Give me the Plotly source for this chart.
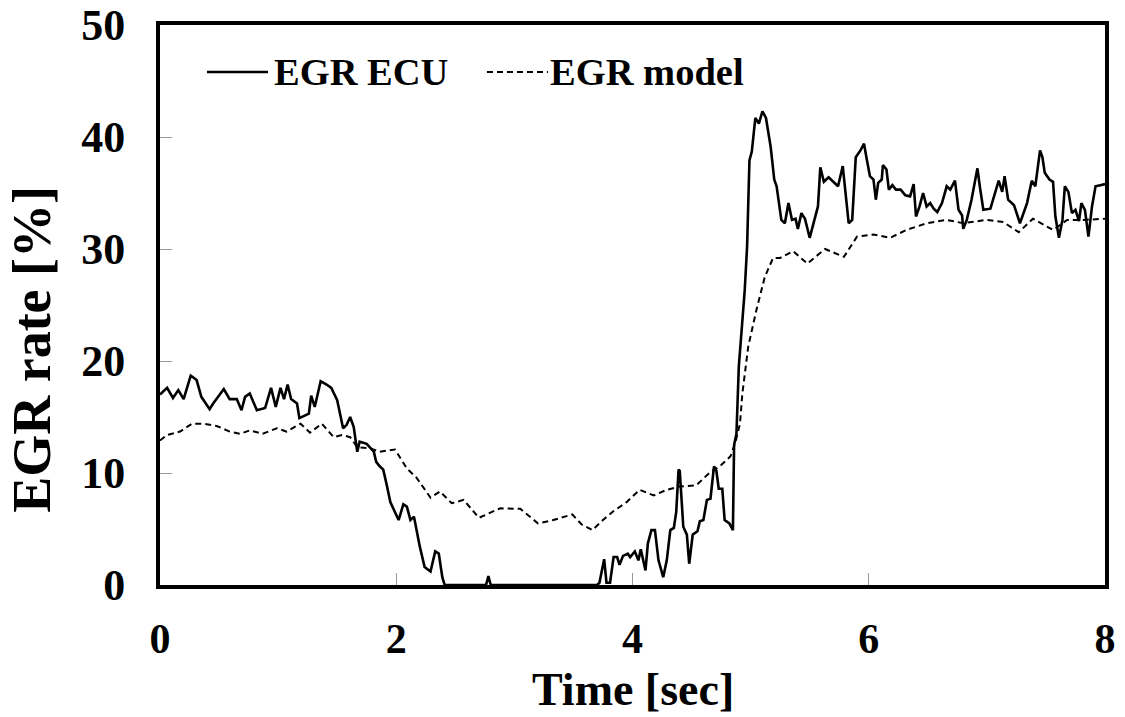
import plotly.graph_objects as go

# EGR ECU (solid)
ecu_t = [0.00,0.06,0.11,0.155,0.20,0.26,0.31,0.35,0.42,0.45,0.54,0.59,0.65,0.69,0.72,0.76,0.82,0.89,0.94,0.98,
         1.02,1.05,1.08,1.11,1.16,1.18,1.26,1.28,1.31,1.36,1.41,1.45,1.50,1.55,1.58,1.61,1.64,1.67,1.69,1.75,
         1.81,1.83,1.86,1.89,1.92,1.95,2.02,2.06,2.09,2.12,2.15,2.20,2.24,2.29,2.33,2.36,2.39,2.41,2.50,2.76,
         2.78,2.80,3.70,3.72,3.76,3.78,3.81,3.84,3.87,3.89,3.92,3.96,3.98,4.02,4.05,4.07,4.11,4.13,4.16,4.19,
         4.22,4.26,4.29,4.32,4.35,4.37,4.39,4.40,4.43,4.46,4.48,4.51,4.55,4.57,4.60,4.63,4.66,4.69,4.71,4.73,
         4.76,4.78,4.82,4.85,4.86,4.88,4.90,4.95,4.97,4.99,5.01,5.04,5.07,5.10,5.13,5.17,5.20,5.22,5.26,5.29,
         5.32,5.35,5.38,5.40,5.43,5.46,5.50,5.55,5.57,5.59,5.62,5.66,5.70,5.74,5.78,5.80,5.83,5.86,5.89,5.93,
         5.96,5.98,6.01,6.04,6.06,6.08,6.11,6.12,6.15,6.17,6.20,6.23,6.27,6.31,6.35,6.38,6.40,6.43,6.46,6.49,
         6.52,6.55,6.58,6.62,6.66,6.69,6.73,6.76,6.79,6.80,6.83,6.87,6.92,6.94,6.97,7.03,7.07,7.10,7.13,7.15,
         7.18,7.23,7.28,7.30,7.34,7.38,7.41,7.45,7.47,7.49,7.53,7.56,7.58,7.61,7.64,7.66,7.69,7.72,7.75,7.78,
         7.80,7.83,7.86,7.89,7.92,7.96,8.00]
ecu_v = [17.0,17.6,16.7,17.4,16.6,18.7,18.3,16.8,15.7,16.2,17.5,16.6,16.6,15.6,16.8,17.1,15.6,15.8,17.6,15.9,
         17.6,16.6,17.9,16.6,16.2,14.9,15.3,16.9,15.9,18.2,17.9,17.6,16.5,14.0,14.3,15.0,14.1,11.9,12.8,12.6,
         11.9,11.0,10.6,10.3,8.9,7.4,5.8,7.2,7.0,5.8,6.1,3.4,1.6,1.2,3.0,2.8,0.7,0.0,0.0,0.0,
         0.8,0.0,0.0,0.2,2.3,0.2,0.2,2.5,2.5,1.8,2.6,2.8,2.5,3.0,2.2,3.2,1.3,3.7,4.9,4.9,
         2.2,0.7,2.2,4.9,5.1,6.5,10.3,10.2,5.2,4.5,1.9,4.5,4.8,5.7,5.8,7.6,7.7,10.6,10.2,8.6,
         8.6,5.8,5.5,4.9,12.5,13.5,19.5,26.3,30.2,37.9,38.7,41.7,41.2,42.3,41.7,39.1,36.2,35.6,32.6,32.3,
         34.1,32.6,32.7,31.8,33.2,32.7,31.0,32.9,33.8,37.3,36.0,36.4,36.0,35.6,37.4,35.3,32.3,32.6,38.2,38.8,
         39.4,38.2,36.5,36.2,34.4,35.9,36.2,37.5,37.1,35.3,35.7,35.3,35.3,34.8,34.7,35.8,32.9,33.8,35.0,33.8,
         34.1,33.6,33.3,34.1,35.6,35.3,36.1,33.5,33.0,31.8,32.6,34.4,37.2,35.6,33.5,33.6,35.0,36.1,35.1,36.5,
         34.4,33.9,32.3,32.9,34.1,36.1,35.6,38.8,38.2,36.8,36.2,36.0,32.9,31.0,32.6,35.6,35.1,33.2,33.5,32.5,
         34.1,33.5,31.1,33.8,35.6,35.7,35.8]

# EGR model (dashed)
model_t = [0.00,0.06,0.17,0.27,0.37,0.48,0.59,0.68,0.76,0.87,0.99,1.07,1.19,1.27,1.37,1.47,1.54,1.61,1.67,1.78,
           1.86,1.99,2.09,2.17,2.29,2.37,2.47,2.57,2.70,2.88,3.05,3.20,3.33,3.49,3.57,3.66,3.75,3.84,3.95,4.06,
           4.18,4.29,4.40,4.54,4.66,4.74,4.83,4.87,4.91,4.93,4.98,5.05,5.12,5.19,5.25,5.36,5.48,5.63,5.79,5.90,
           6.04,6.18,6.32,6.49,6.66,6.80,7.00,7.14,7.27,7.39,7.56,7.68,7.82,8.00]
model_v = [12.9,13.4,13.7,14.4,14.4,14.2,13.7,13.5,13.8,13.5,14.0,13.7,14.4,13.6,14.4,13.2,13.4,13.2,12.3,12.2,
           11.9,12.1,10.4,9.6,7.8,8.35,7.3,7.6,6.0,6.85,6.8,5.5,5.8,6.3,5.4,4.9,5.8,6.6,7.4,8.5,
           8.0,8.5,8.8,8.9,10.1,10.6,11.5,12.7,14.4,17.1,21.3,24.6,27.5,29.2,29.2,29.8,28.7,30.0,29.3,31.1,
           31.3,31.0,31.7,32.3,32.6,32.3,32.6,32.4,31.5,32.7,31.7,32.6,32.6,32.7]

x_ticks = [0, 2, 4, 6, 8]
y_ticks = [0, 10, 20, 30, 40, 50]
series_names = ["EGR ECU", "EGR model"]
x_title = "Time [sec]"
y_title = "EGR rate [%]"

FONT = "Liberation Serif"

fig = go.Figure()
fig.add_trace(go.Scatter(x=ecu_t, y=ecu_v, mode="lines", name=series_names[0],
                         line=dict(color="black", width=2.6), showlegend=False))
fig.add_trace(go.Scatter(x=model_t, y=model_v, mode="lines", name=series_names[1],
                         line=dict(color="black", width=2, dash="6px,4px"), showlegend=False))

axis_common = dict(showgrid=False, zeroline=False, showline=True, linecolor="black", linewidth=4,
                   mirror=True, ticks="inside", ticklen=12, tickcolor="#9a9a9a", tickwidth=1)

fig.update_xaxes(range=[0, 8], tickvals=x_ticks, ticklabelstandoff=14,
                 tickfont=dict(family=FONT, size=42, color="black", weight="bold"), **axis_common)
fig.update_yaxes(range=[0, 50], tickvals=y_ticks, ticklabelstandoff=22,
                 tickfont=dict(family=FONT, size=44, color="black", weight="bold"), **axis_common)

# axis titles
fig.add_annotation(xref="paper", yref="paper", x=0.5, y=-0.186, xanchor="center", yanchor="middle",
                   text=x_title, showarrow=False,
                   font=dict(family=FONT, size=46, color="black", weight="bold"))
fig.add_annotation(xref="paper", yref="paper", x=-0.1354, y=0.42, xanchor="center", yanchor="middle",
                   text=y_title, showarrow=False, textangle=-90,
                   font=dict(family=FONT, size=54, color="black", weight="bold"))

# legend drawn as lines + text inside the plot
leg_y = 0.916
fig.add_shape(type="line", xref="paper", yref="paper", x0=0.0497, x1=0.1143, y0=leg_y, y1=leg_y,
              line=dict(color="black", width=2.6))
fig.add_shape(type="line", xref="paper", yref="paper", x0=0.346, x1=0.4106, y0=leg_y, y1=leg_y,
              line=dict(color="black", width=2, dash="6px,4px"))
fig.add_annotation(xref="paper", yref="paper", x=0.118, y=leg_y, xanchor="left", yanchor="middle",
                   text=series_names[0], showarrow=False,
                   font=dict(family=FONT, size=38.5, color="black", weight="bold"))
fig.add_annotation(xref="paper", yref="paper", x=0.411, y=leg_y, xanchor="left", yanchor="middle",
                   text=series_names[1], showarrow=False,
                   font=dict(family=FONT, size=38.5, color="black", weight="bold"))

fig.update_layout(width=1125, height=717, margin=dict(l=160, r=20, t=25, b=132, autoexpand=False),
                  plot_bgcolor="white", paper_bgcolor="white", showlegend=False)

fig.write_html("out.html")
